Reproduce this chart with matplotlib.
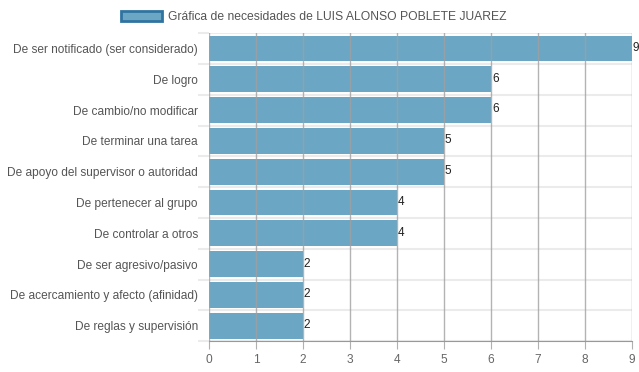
import matplotlib
matplotlib.use("Agg")
import matplotlib.pyplot as plt
from matplotlib.patches import Patch

categories = [
    "De ser notificado (ser considerado)",
    "De logro",
    "De cambio/no modificar",
    "De terminar una tarea",
    "De apoyo del supervisor o autoridad",
    "De pertenecer al grupo",
    "De controlar a otros",
    "De ser agresivo/pasivo",
    "De acercamiento y afecto (afinidad)",
    "De reglas y supervisión",
]
values = [9, 6, 6, 5, 5, 4, 4, 2, 2, 2]
xticks = list(range(0, 10))
legend_label = "Gráfica de necesidades de LUIS ALONSO POBLETE JUAREZ"

bar_color = "#6ca6c5"
edge_color = "#2f74a0"

plt.rcParams['font.family'] = ['Liberation Sans', 'DejaVu Sans']

fig = plt.figure(figsize=(6.39, 3.72), dpi=100)
ax = fig.add_axes([0.327, 0.083, 0.662, 0.828])

y = list(range(len(categories)))
ax.barh(y, values, height=0.84, color=bar_color, zorder=1)
ax.set_ylim(len(categories) - 0.5, -0.5)
ax.set_xlim(0, 9)

for yi, v in zip(y, values):
    ax.text(v + 0.02, yi - 0.02, str(v), va="center", ha="left", fontsize=8.5, color="#222222")

# grid
for xv in xticks:
    ax.axvline(xv, color="#a0a0a0", lw=1, zorder=2, alpha=0.8)
for k in range(len(categories) + 1):
    ax.axhline(k - 0.5, color="#ebebeb", lw=1.5, zorder=0)

ax.set_xticks(xticks)
ax.set_yticks(y)
ax.set_yticklabels(categories, fontsize=8.6, color="#555555")
ax.tick_params(axis="x", labelsize=8.6, colors="#666666", length=6, color="#b0b0b0")
ax.set_yticks([k - 0.5 for k in range(len(categories) + 1)], minor=True)
ax.tick_params(axis="y", which="minor", length=8, color="#ebebeb", width=1.5)
ax.tick_params(axis="y", which="major", length=0, pad=8)

for s in ["top", "right", "left"]:
    ax.spines[s].set_visible(False)
ax.spines["bottom"].set_color("#999999")

handle = Patch(facecolor=bar_color, edgecolor=edge_color, linewidth=2)
fig.legend([handle], [legend_label], loc="upper center", bbox_to_anchor=(0.491, 1.0),
           frameon=False, fontsize=8.7, handlelength=3.4, handleheight=0.9,
           labelcolor="#555555", handletextpad=0.5)

fig.savefig("out.png", dpi=100)
